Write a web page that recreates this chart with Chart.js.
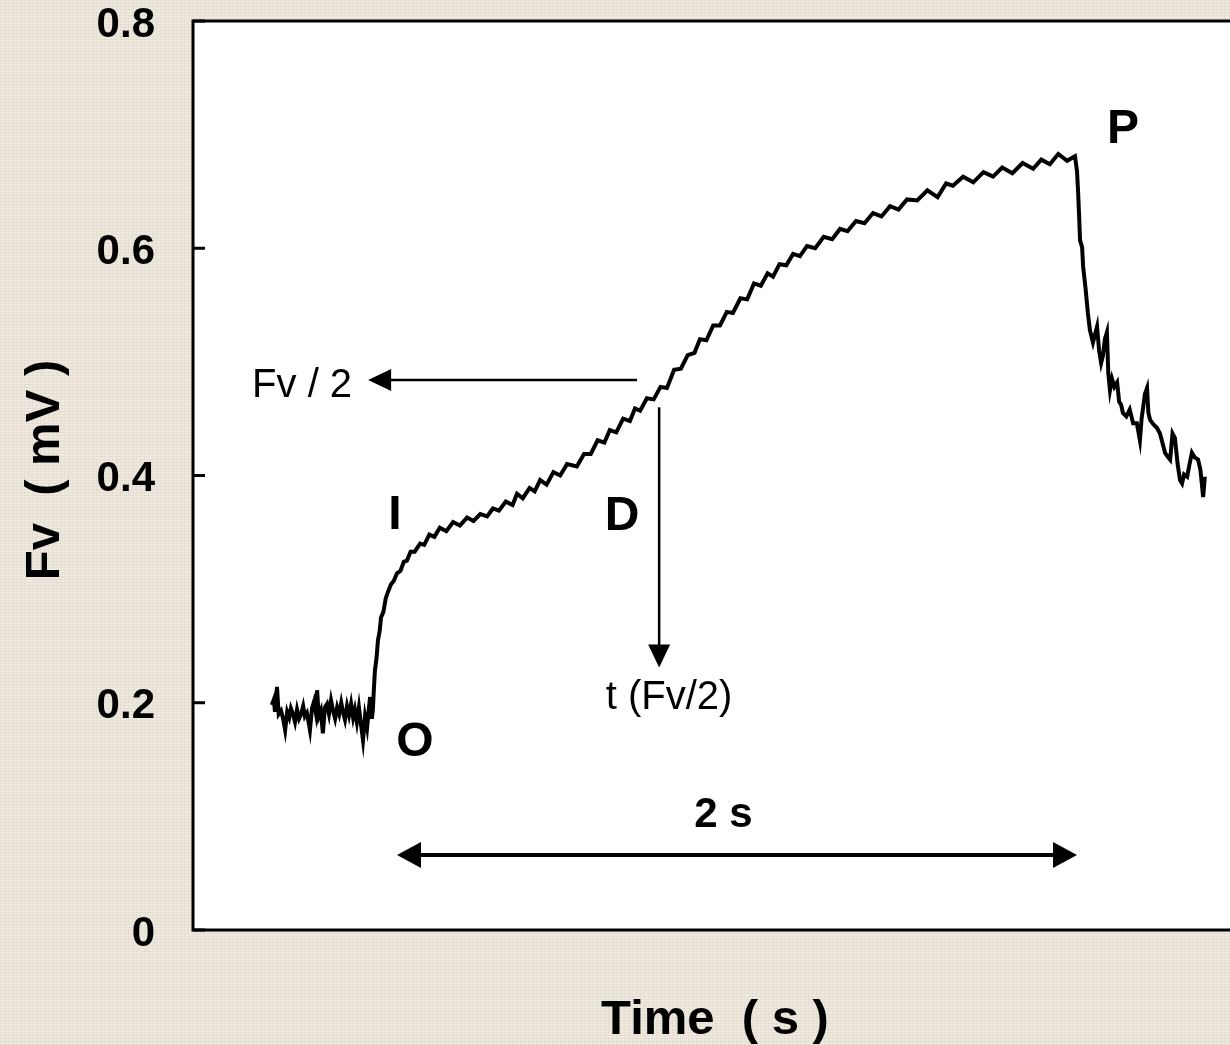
<!DOCTYPE html>
<html>
<head>
<meta charset="utf-8">
<title>Fv transient</title>
<script src="https://cdn.jsdelivr.net/npm/chart.js@4.4.1/dist/chart.umd.min.js"></script>
<style>
  html, body {
    margin: 0;
    padding: 0;
    overflow: hidden;
  }
  body {
    width: 1230px;
    height: 1045px;
    background-color: #eee8de;
    background-image:
      repeating-linear-gradient(0deg, rgba(140, 120, 90, 0.08) 0 1px, transparent 1px 3px),
      repeating-linear-gradient(90deg, rgba(140, 120, 90, 0.05) 0 1px, transparent 1px 4px);
  }
  canvas {
    display: block;
  }
</style>
</head>
<body>
<canvas id="fvChart" width="1260" height="1045"></canvas>
<script>
// trace before the light step (O)
const baseTime = [0.232, 0.238, 0.241, 0.247, 0.252, 0.259, 0.265, 0.271, 0.277, 0.283,
  0.288, 0.294, 0.300, 0.306, 0.312, 0.318, 0.324, 0.329, 0.335, 0.340,
  0.344, 0.350, 0.356, 0.361, 0.365, 0.370, 0.376, 0.382, 0.388, 0.394,
  0.400, 0.406, 0.412, 0.418, 0.424, 0.430, 0.436, 0.441, 0.447, 0.453,
  0.459, 0.465, 0.471, 0.476, 0.482, 0.488, 0.494, 0.500, 0.506, 0.512,
  0.518, 0.521, 0.526, 0.529];
const baseFv = [0.198, 0.203, 0.192, 0.214, 0.190, 0.193, 0.186, 0.176, 0.192, 0.187,
  0.195, 0.190, 0.183, 0.194, 0.186, 0.190, 0.197, 0.188, 0.191, 0.183,
  0.176, 0.195, 0.201, 0.192, 0.211, 0.188, 0.193, 0.173, 0.196, 0.199,
  0.190, 0.202, 0.193, 0.186, 0.196, 0.190, 0.200, 0.192, 0.185, 0.197,
  0.189, 0.199, 0.187, 0.194, 0.183, 0.196, 0.181, 0.167, 0.188, 0.178,
  0.197, 0.205, 0.186, 0.194];

// O -> I -> D -> P rise
const riseTime = [0.532, 0.535, 0.540, 0.544, 0.549, 0.553, 0.560, 0.567, 0.574, 0.582,
  0.590, 0.600, 0.610, 0.620, 0.629, 0.640, 0.652, 0.668, 0.680, 0.695,
  0.710, 0.726, 0.745, 0.765, 0.785, 0.806, 0.825, 0.845, 0.865, 0.882,
  0.900, 0.920, 0.940, 0.953, 0.970, 0.990, 1.005, 1.021, 1.040, 1.060,
  1.080, 1.100, 1.129, 1.150, 1.170, 1.190, 1.210, 1.226, 1.245, 1.265,
  1.285, 1.300, 1.315, 1.335, 1.355, 1.375, 1.394, 1.415, 1.435, 1.455,
  1.475, 1.491, 1.510, 1.530, 1.550, 1.570, 1.588, 1.610, 1.630, 1.650,
  1.670, 1.690, 1.706, 1.725, 1.745, 1.765, 1.785, 1.806, 1.830, 1.855,
  1.880, 1.903, 1.925, 1.950, 1.975, 2.000, 2.025, 2.050, 2.075, 2.100,
  2.130, 2.160, 2.190, 2.215, 2.235, 2.265, 2.295, 2.325, 2.353, 2.380,
  2.410, 2.440, 2.471, 2.495, 2.520, 2.545, 2.571, 2.594];
const riseFv = [0.212, 0.228, 0.240, 0.255, 0.263, 0.275, 0.280, 0.292, 0.298, 0.304,
  0.307, 0.314, 0.316, 0.324, 0.325, 0.333, 0.333, 0.340, 0.339, 0.348,
  0.346, 0.354, 0.351, 0.359, 0.356, 0.363, 0.360, 0.366, 0.364, 0.371,
  0.369, 0.377, 0.374, 0.384, 0.380, 0.389, 0.386, 0.396, 0.392, 0.403,
  0.400, 0.410, 0.408, 0.419, 0.419, 0.431, 0.429, 0.440, 0.438, 0.450,
  0.448, 0.459, 0.457, 0.468, 0.467, 0.478, 0.477, 0.493, 0.494, 0.506,
  0.508, 0.520, 0.519, 0.532, 0.532, 0.544, 0.543, 0.556, 0.555, 0.569,
  0.567, 0.578, 0.575, 0.586, 0.585, 0.595, 0.593, 0.602, 0.600, 0.610,
  0.608, 0.617, 0.615, 0.624, 0.622, 0.631, 0.628, 0.637, 0.634, 0.643,
  0.642, 0.651, 0.645, 0.657, 0.655, 0.663, 0.658, 0.667, 0.663, 0.671,
  0.666, 0.675, 0.670, 0.678, 0.674, 0.683, 0.677, 0.681];

// decay after P
const decayTime = [2.600, 2.603, 2.606, 2.609, 2.615, 2.618, 2.625, 2.632, 2.638, 2.647,
  2.653, 2.659, 2.665, 2.671, 2.676, 2.682, 2.688, 2.692, 2.697, 2.703,
  2.710, 2.718, 2.724, 2.730, 2.735, 2.745, 2.755, 2.765, 2.776, 2.785,
  2.790, 2.800, 2.806, 2.810, 2.815, 2.825, 2.835, 2.844, 2.852, 2.859,
  2.866, 2.874, 2.881, 2.888, 2.896, 2.903, 2.909, 2.915, 2.924, 2.931,
  2.938, 2.946, 2.956, 2.963, 2.971, 2.976];
const decayFv = [0.668, 0.651, 0.630, 0.607, 0.601, 0.584, 0.565, 0.543, 0.528, 0.517,
  0.524, 0.531, 0.510, 0.499, 0.505, 0.520, 0.526, 0.490, 0.475, 0.485,
  0.478, 0.482, 0.465, 0.462, 0.455, 0.452, 0.458, 0.446, 0.446, 0.431,
  0.450, 0.472, 0.477, 0.455, 0.449, 0.445, 0.442, 0.437, 0.428, 0.420,
  0.417, 0.414, 0.437, 0.433, 0.410, 0.396, 0.393, 0.401, 0.399, 0.410,
  0.420, 0.416, 0.414, 0.405, 0.381, 0.399];

const yTicks = [0, 0.2, 0.4, 0.6, 0.8];

// point labels, in data units (time s, Fv mV)
const letterLabels = [
  { text: "O", t: 0.653, v: 0.165 },
  { text: "I", t: 0.594, v: 0.365 },
  { text: "D", t: 1.262, v: 0.364 },
  { text: "P", t: 2.735, v: 0.704 }
];
const halfFv = 0.484;     // Fv/2 level
const halfTime = 1.371;   // t(Fv/2)
const spanStart = 0.6;    // 2 s bracket
const spanEnd = 2.6;

const FONT = "'Liberation Sans', Arial, Helvetica, sans-serif";

const points = []
  .concat(baseTime.map((t, i) => ({ x: t, y: baseFv[i] })))
  .concat(riseTime.map((t, i) => ({ x: t, y: riseFv[i] })))
  .concat(decayTime.map((t, i) => ({ x: t, y: decayFv[i] })));

function arrowHead(ctx, x1, y1, x2, y2, len, hw) {
  const a = Math.atan2(y2 - y1, x2 - x1);
  const bx = x2 - Math.cos(a) * len, by = y2 - Math.sin(a) * len;
  ctx.beginPath();
  ctx.moveTo(x2, y2);
  ctx.lineTo(bx - Math.sin(a) * hw, by + Math.cos(a) * hw);
  ctx.lineTo(bx + Math.sin(a) * hw, by - Math.cos(a) * hw);
  ctx.closePath();
  ctx.fill();
}

function line(ctx, x1, y1, x2, y2) {
  ctx.beginPath();
  ctx.moveTo(x1, y1);
  ctx.lineTo(x2, y2);
  ctx.stroke();
}

const decorPlugin = {
  id: "decor",
  beforeDraw(chart) {
    const { ctx, chartArea: a } = chart;
    ctx.save();
    ctx.fillStyle = "#ffffff";
    ctx.fillRect(a.left, a.top, a.right - a.left, a.bottom - a.top);
    ctx.restore();
  },
  afterDraw(chart) {
    const { ctx, chartArea: a } = chart;
    const xs = chart.scales.x, ys = chart.scales.y;
    ctx.save();
    ctx.strokeStyle = "#000";
    ctx.fillStyle = "#000";

    // frame and inner tick marks
    ctx.lineWidth = 3;
    ctx.strokeRect(a.left, a.top, a.right - a.left, a.bottom - a.top);
    yTicks.forEach((v) => {
      const py = ys.getPixelForValue(v);
      line(ctx, a.left, py, a.left + 12, py);
    });

    // Fv/2 arrow to the left
    ctx.lineWidth = 2.5;
    const hy = ys.getPixelForValue(halfFv);
    const hx1 = xs.getPixelForValue(1.306), hx2 = xs.getPixelForValue(0.515);
    line(ctx, hx1, hy, hx2 + 20, hy);
    arrowHead(ctx, hx1, hy, hx2, hy, 23, 11);

    // t(Fv/2) arrow downwards
    const vx = xs.getPixelForValue(halfTime);
    const vy1 = ys.getPixelForValue(0.46), vy2 = ys.getPixelForValue(0.231);
    line(ctx, vx, vy1, vx, vy2 - 20);
    arrowHead(ctx, vx, vy1, vx, vy2, 23, 11);

    // 2 s bracket
    ctx.lineWidth = 4;
    const sy = ys.getPixelForValue(0.066);
    const sx1 = xs.getPixelForValue(spanStart), sx2 = xs.getPixelForValue(spanEnd);
    line(ctx, sx1 + 20, sy, sx2 - 20, sy);
    arrowHead(ctx, sx2, sy, sx1, sy, 24, 13);
    arrowHead(ctx, sx1, sy, sx2, sy, 24, 13);

    // texts
    ctx.textBaseline = "middle";
    ctx.font = "bold 48px " + FONT;
    ctx.textAlign = "center";
    letterLabels.forEach((l) => {
      ctx.fillText(l.text, xs.getPixelForValue(l.t), ys.getPixelForValue(l.v));
    });
    ctx.font = "bold 42px " + FONT;
    ctx.fillText("2 s", xs.getPixelForValue(1.56), ys.getPixelForValue(0.101));

    ctx.font = "40px " + FONT;
    ctx.textAlign = "right";
    ctx.fillText("Fv / 2", xs.getPixelForValue(0.468), ys.getPixelForValue(0.479));
    ctx.textAlign = "center";
    ctx.fillText("t (Fv/2)", xs.getPixelForValue(1.40), ys.getPixelForValue(0.204));

    // axis titles
    ctx.font = "bold 49px " + FONT;
    ctx.fillText("Time  ( s )", 715, 1020);
    ctx.translate(45, 470);
    ctx.rotate(-Math.PI / 2);
    ctx.fillText("Fv  ( mV )", 0, 0);
    ctx.restore();
  }
};

new Chart(document.getElementById("fvChart"), {
  type: "line",
  data: {
    datasets: [{
      data: points,
      borderColor: "#000",
      borderWidth: 4,
      borderJoinStyle: "miter",
      pointRadius: 0,
      tension: 0,
      fill: false
    }]
  },
  options: {
    responsive: false,
    animation: false,
    events: [],
    layout: { padding: { left: 0, top: 21, right: 13, bottom: 0 } },
    plugins: {
      legend: { display: false },
      tooltip: { enabled: false }
    },
    scales: {
      x: {
        type: "linear",
        min: 0,
        max: 3.1,
        ticks: { display: false },
        grid: { display: false, drawTicks: false },
        border: { display: false },
        afterFit(s) {
          s.height = 115;
          s.paddingLeft = 0;
          s.paddingRight = 0;
        }
      },
      y: {
        min: 0,
        max: 0.8,
        afterBuildTicks(s) {
          s.ticks = yTicks.map((v) => ({ value: v }));
        },
        ticks: {
          padding: 38,
          labelOffset: 4,
          color: "#000",
          font: { family: FONT, weight: "bold", size: 42, lineHeight: 1 },
          callback: (v) => String(+v.toFixed(1))
        },
        grid: { display: false, drawTicks: false },
        border: { display: false },
        afterFit(s) {
          s.width = 193;
          s.paddingTop = 0;
          s.paddingBottom = 0;
        }
      }
    }
  },
  plugins: [decorPlugin]
});
</script>
</body>
</html>
